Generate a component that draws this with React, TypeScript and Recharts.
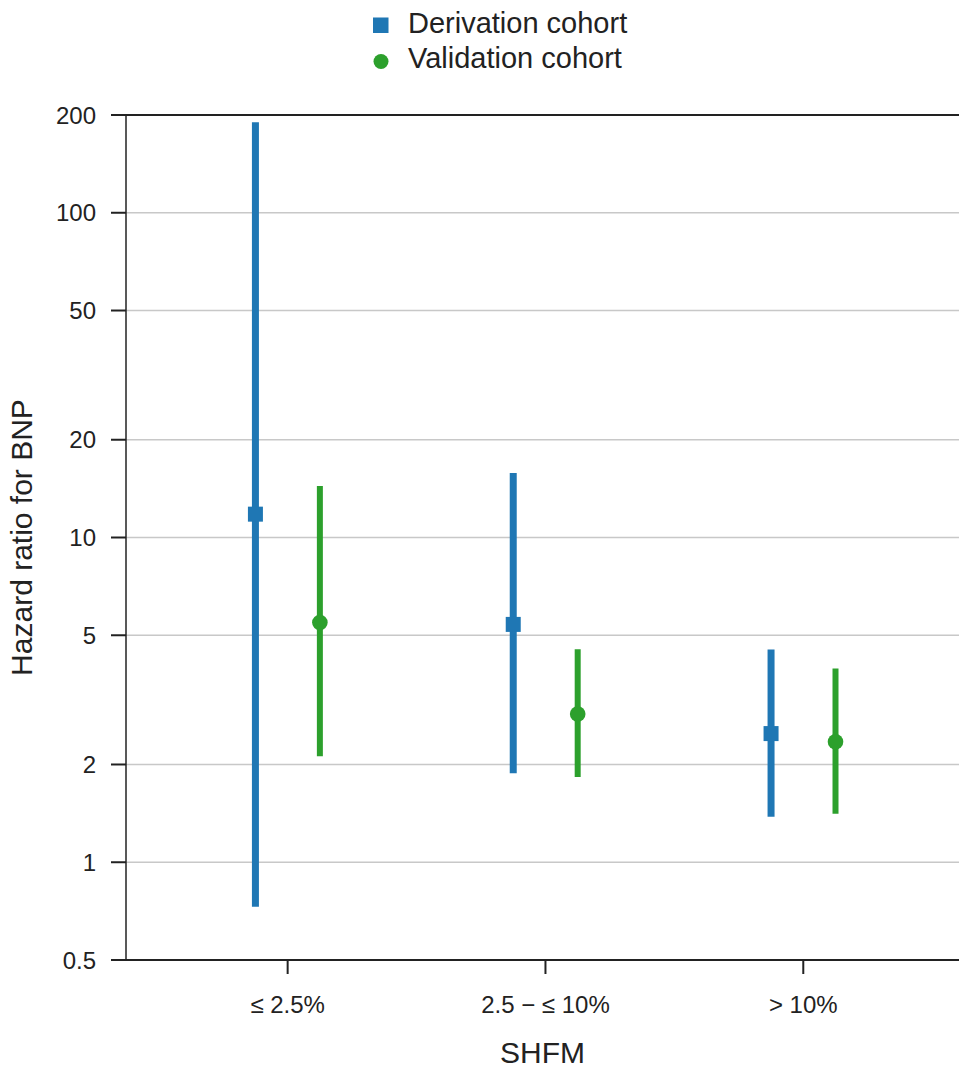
import React from 'react';
import {
  ScatterChart,
  Scatter,
  XAxis,
  YAxis,
  CartesianGrid,
  ErrorBar,
  ReferenceLine,
  Legend,
} from 'recharts';

const categories = ['≤ 2.5%', '2.5 − ≤ 10%', '> 10%'];

const derivationEst = [11.8, 5.4, 2.49];
const derivationLow = [0.73, 1.88, 1.38];
const derivationHigh = [190, 15.8, 4.52];

const validationEst = [5.47, 2.86, 2.35];
const validationLow = [2.12, 1.83, 1.41];
const validationHigh = [14.4, 4.53, 3.95];

const yTicks = [0.5, 1, 2, 5, 10, 20, 50, 100, 200];

const BLUE = '#1f77b4';
const GREEN = '#2ca02c';
const INK = '#222';

const build = (est: number[], low: number[], high: number[], shift: number) =>
  est.map((v, i) => ({
    x: i + 1 + shift,
    y: v,
    err: [v - low[i], high[i] - v],
  }));

const derivationData = build(derivationEst, derivationLow, derivationHigh, -0.125);
const validationData = build(validationEst, validationLow, validationHigh, 0.125);

const SquareDot = (props: any) => {
  const { cx, cy } = props;
  return <rect x={cx - 7.5} y={cy - 7.5} width={15} height={15} fill={BLUE} />;
};

const CircleDot = (props: any) => {
  const { cx, cy } = props;
  return <circle cx={cx} cy={cy} r={7.8} fill={GREEN} />;
};

const renderLegend = () => (
  <svg width={959} height={80} style={{ display: 'block' }}>
    <rect x={373} y={17.5} width={15.5} height={15.5} fill={BLUE} />
    <text x={408} y={33} fontSize={29} fill={INK}>
      Derivation cohort
    </text>
    <circle cx={381} cy={61.5} r={7.5} fill={GREEN} />
    <text x={408} y={68} fontSize={29} fill={INK}>
      Validation cohort
    </text>
  </svg>
);

export default function App() {
  return (
    <div style={{ fontFamily: '"Liberation Sans", Arial, sans-serif' }}>
      <style>{'body { margin: 0; }'}</style>
      <ScatterChart width={959} height={1077} margin={{ top: 35, right: 0, bottom: 0, left: 0 }}>
        <Legend verticalAlign="top" content={renderLegend} wrapperStyle={{ top: 0, left: 0 }} />
        <CartesianGrid vertical={false} stroke="#c8c8c8" strokeWidth={1.5} />
        <XAxis
          type="number"
          dataKey="x"
          domain={[0.373, 3.604]}
          ticks={[1, 2, 3]}
          tickFormatter={(v: number) => categories[v - 1]}
          allowDataOverflow
          height={117}
          tickSize={14}
          tickMargin={22}
          tick={{ fill: INK, fontSize: 24 }}
          tickLine={{ stroke: INK, strokeWidth: 2 }}
          axisLine={{ stroke: INK, strokeWidth: 2 }}
          label={{ value: 'SHFM', position: 'insideBottom', offset: 14, fontSize: 30, fill: INK }}
        />
        <YAxis
          type="number"
          dataKey="y"
          scale="log"
          domain={[0.5, 200]}
          ticks={yTicks}
          allowDataOverflow
          width={126}
          tickSize={15}
          tickMargin={15}
          tick={{ fill: INK, fontSize: 24 }}
          tickLine={{ stroke: INK, strokeWidth: 2 }}
          axisLine={{ stroke: INK, strokeWidth: 1.5 }}
          label={{
            value: 'Hazard ratio for BNP',
            angle: -90,
            position: 'insideLeft',
            offset: 21,
            fontSize: 30,
            fill: INK,
            style: { textAnchor: 'middle' },
          }}
        />
        <ReferenceLine y={200} stroke={INK} strokeWidth={2} />
        <Scatter
          name="Derivation cohort"
          data={derivationData}
          fill={BLUE}
          shape={SquareDot}
          isAnimationActive={false}
        >
          <ErrorBar dataKey="err" direction="y" width={0} stroke={BLUE} strokeWidth={7} />
        </Scatter>
        <Scatter
          name="Validation cohort"
          data={validationData}
          fill={GREEN}
          shape={CircleDot}
          isAnimationActive={false}
        >
          <ErrorBar dataKey="err" direction="y" width={0} stroke={GREEN} strokeWidth={6} />
        </Scatter>
      </ScatterChart>
    </div>
  );
}
